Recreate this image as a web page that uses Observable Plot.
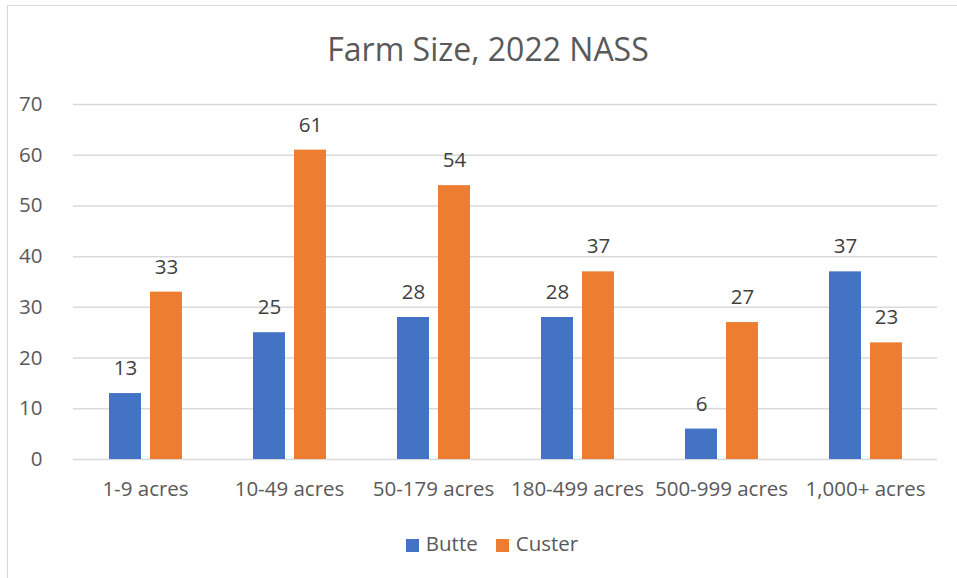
<!DOCTYPE html>
<html><head><meta charset="utf-8">
<script src="https://cdn.jsdelivr.net/npm/d3@7"></script>
<script src="https://cdn.jsdelivr.net/npm/@observablehq/plot@0.6"></script>
<style>
body{margin:0;background:#fff;}
#wrap{position:relative;width:957px;height:578px;overflow:hidden;font-family:"Open Sans",sans-serif;background:#fff;}
#border{position:absolute;left:7px;top:5px;width:1000px;height:700px;border-left:1.5px solid #d9d9d9;border-top:1.5px solid #d9d9d9;}
#title{position:absolute;left:0;width:976px;top:27px;text-align:center;font-size:32px;color:#595959;line-height:normal;}
#chart{position:absolute;left:0;top:0;}
#legend{position:absolute;left:0;width:984px;top:529px;text-align:center;font-size:20.5px;color:#595959;line-height:28px;}
#legend .item{display:inline-block;margin:0 9px;}
#legend .sw{display:inline-block;width:13px;height:13px;margin-right:7px;vertical-align:-1px;}
</style></head>
<body>
<div id="wrap">
  <div id="border"></div>
  <div id="title">Farm Size, 2022 NASS</div>
  <div id="chart"></div>
  <div id="legend"></div>
</div>
<script>
const categories = ["1-9 acres", "10-49 acres", "50-179 acres", "180-499 acres", "500-999 acres", "1,000+ acres"];
const seriesNames = ["Butte", "Custer"];
const butte = [13, 25, 28, 28, 6, 37];
const custer = [33, 61, 54, 37, 27, 23];
const yTicks = [0, 10, 20, 30, 40, 50, 60, 70];
const colors = ["#4472C4", "#ED7D31"];

const data = [];
categories.forEach((c, i) => {
  data.push({category: c, series: "Butte", value: butte[i]});
  data.push({category: c, series: "Custer", value: custer[i]});
});

const plot = Plot.plot({
  width: 957,
  height: 578,
  marginLeft: 72,
  marginRight: 19,
  marginTop: 104,
  marginBottom: 119,
  style: {fontFamily: '"Open Sans", sans-serif', fontSize: "20px", color: "#595959", background: "transparent"},
  fx: {domain: categories, padding: 0, label: null},
  x: {domain: seriesNames, paddingInner: 0.23, paddingOuter: 0.853, axis: null},
  y: {domain: [0, 70], ticks: yTicks, label: null},
  color: {domain: seriesNames, range: colors},
  marks: [
    Plot.ruleY(yTicks, {stroke: "#d9d9d9", strokeWidth: 1.5}),
    Plot.axisY({ticks: yTicks, tickSize: 0, tickPadding: 31, label: null, fontSize: 20.5, fill: "#595959"}),
    Plot.axisFx({anchor: "bottom", tickSize: 0, tickPadding: 22, label: null, fontSize: 20.5, fill: "#595959"}),
    Plot.barY(data, {fx: "category", x: "series", y: "value", fill: "series"}),
    Plot.text(data, {fx: "category", x: "series", y: "value", text: d => String(d.value), dy: -25, fontSize: 20.5, fill: "#404040"})
  ]
});
document.getElementById("chart").appendChild(plot);

const legend = document.getElementById("legend");
seriesNames.forEach((s, i) => {
  const item = document.createElement("span");
  item.className = "item";
  const sw = document.createElement("span");
  sw.className = "sw";
  sw.style.background = colors[i];
  item.appendChild(sw);
  item.appendChild(document.createTextNode(s));
  legend.appendChild(item);
});
</script>
</body></html>
